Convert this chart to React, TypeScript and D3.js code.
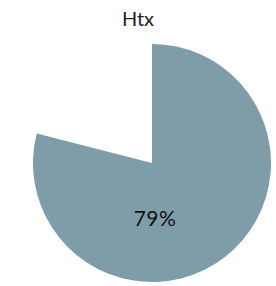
import React from 'react';
import * as d3 from 'd3';

const title = 'Htx';
const categories = ['Yes', 'No'];
const values = [79, 21];
const colors = ['#7f9ca9', 'none'];

const width = 276;
const height = 286;

export default function App() {
  const cx = 152;
  const cy = 163;
  const radius = 119;

  const pie = d3.pie<number>().value(d => d).sort(null);
  const arc = d3.arc<d3.PieArcDatum<number>>().innerRadius(0).outerRadius(radius);
  const arcs = pie(values);
  const total = d3.sum(values);

  return (
    <svg
      width={width}
      height={height}
      style={{position: 'absolute', left: 0, top: 0}}
      viewBox={`0 0 ${width} ${height}`}
    >
      <text
        x={width / 2}
        y={26}
        textAnchor="middle"
        fontFamily="Lato"
        fontSize={20}
        fill="#222"
      >
        {title}
      </text>
      <g transform={`translate(${cx},${cy})`}>
        {arcs.map((a, i) => (
          <path key={categories[i]} d={arc(a) || ''} fill={colors[i]} />
        ))}
        <text
          x={3}
          y={63}
          textAnchor="middle"
          fontFamily="Lato"
          fontSize={21}
          letterSpacing={0.5}
          fill="#111"
        >
          {Math.round((values[0] / total) * 100) + '%'}
        </text>
      </g>
    </svg>
  );
}
